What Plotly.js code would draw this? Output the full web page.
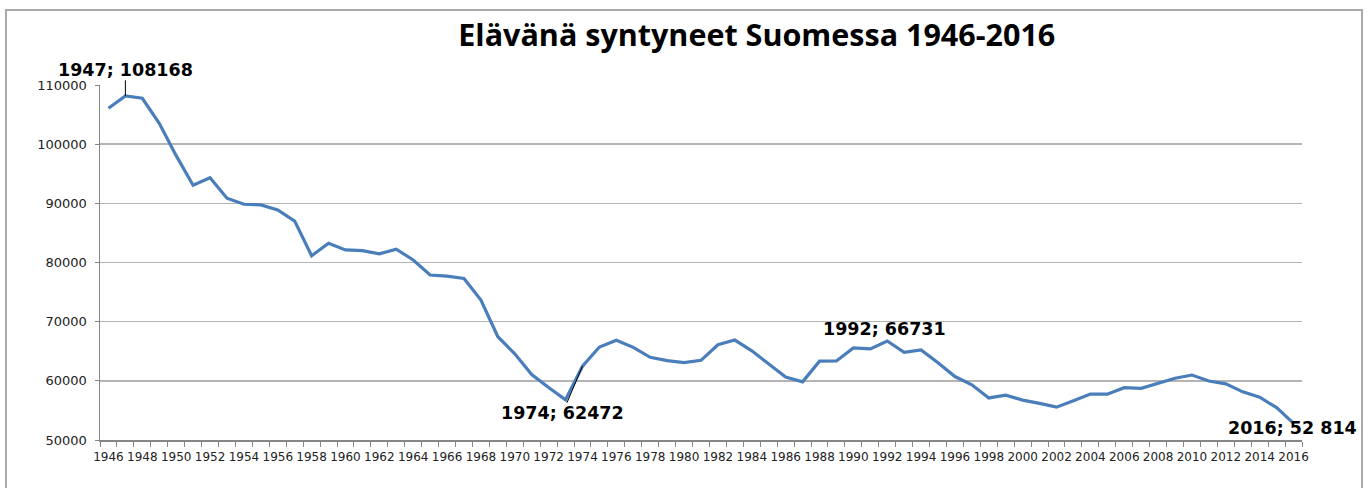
<!DOCTYPE html>
<html>
<head>
<meta charset="utf-8">
<script src="https://cdn.plot.ly/plotly-3.0.1.min.js"></script>
<style>
  html, body { margin: 0; padding: 0; background: #fff; overflow: hidden; }
  #wrap { position: relative; width: 1371px; height: 488px; }
  #chart { position: absolute; left: 0; top: 0; width: 1371px; height: 488px; }
  #frame { position: absolute; left: 5px; top: 9px; width: 1358px; height: 520px;
           border: 2px solid #a8a8a8; box-sizing: border-box; pointer-events: none; }
</style>
</head>
<body>
<div id="wrap">
  <div id="chart"></div>
  <div id="frame"></div>
</div>
<script>
const years = [1946,1947,1948,1949,1950,1951,1952,1953,1954,1955,1956,1957,1958,1959,1960,
  1961,1962,1963,1964,1965,1966,1967,1968,1969,1970,1971,1972,1973,1974,1975,1976,1977,1978,
  1979,1980,1981,1982,1983,1984,1985,1986,1987,1988,1989,1990,1991,1992,1993,1994,1995,1996,
  1997,1998,1999,2000,2001,2002,2003,2004,2005,2006,2007,2008,2009,2010,2011,2012,2013,2014,
  2015,2016];
const births = [106075,108168,107759,103515,98065,93063,94314,90866,89845,89740,88896,86985,
  81148,83253,82129,81996,81454,82251,80428,77885,77697,77289,73654,67450,64559,61067,58864,
  56787,62472,65719,66846,65659,63983,63428,63064,63469,66106,66892,65076,62796,60632,59827,
  63316,63348,65549,65395,66731,64826,65231,63067,60723,59329,57108,57574,56742,56189,55555,
  56630,57758,57745,58840,58729,59530,60430,60980,59961,59493,58134,57232,55472,52814];
const xLabelYears = [1946,1948,1950,1952,1954,1956,1958,1960,1962,1964,1966,1968,1970,1972,
  1974,1976,1978,1980,1982,1984,1986,1988,1990,1992,1994,1996,1998,2000,2002,2004,2006,2008,
  2010,2012,2014,2016];
const yTicks = [50000,60000,70000,80000,90000,100000,110000];
const titleText = 'Elävänä syntyneet Suomessa 1946-2016';
const labelled = [
  {year: 1947, text: '1947; 108168'},
  {year: 1974, text: '1974; 62472'},
  {year: 1992, text: '1992; 66731'},
  {year: 2016, text: '2016; 52 814'}
];

function valueOf(y) { return births[years.indexOf(y)]; }

const xr = [years[0] - 0.5, years[years.length - 1] + 0.5];
const annFont = {family: 'DejaVu Sans', size: 17.5, color: '#000', weight: 'bold'};

const annotations = [
  {x: labelled[0].year, y: valueOf(labelled[0].year), text: '<b>' + labelled[0].text + '</b>',
   showarrow: true, arrowhead: 0, arrowwidth: 1, arrowcolor: '#000', ax: 0, ay: -26,
   font: annFont, borderpad: 0, standoff: 0},
  {x: labelled[1].year, y: valueOf(labelled[1].year), text: '<b>' + labelled[1].text + '</b>',
   showarrow: true, arrowhead: 0, arrowwidth: 1, arrowcolor: '#000', ax: -20, ay: 47,
   font: annFont, borderpad: 0, standoff: 0},
  {x: labelled[2].year, y: valueOf(labelled[2].year), text: '<b>' + labelled[2].text + '</b>',
   showarrow: false, xshift: -3, yshift: 12, font: annFont},
  {x: labelled[3].year, y: valueOf(labelled[3].year), text: '<b>' + labelled[3].text + '</b>',
   showarrow: false, xshift: -1, yshift: -5, font: annFont}
];

const trace = {
  x: years, y: births, type: 'scatter', mode: 'lines',
  line: {color: '#4a7ebb', width: 3.2}, hoverinfo: 'x+y', showlegend: false
};
const traceLabels = {
  x: [years[0]], y: [births[0]], xaxis: 'x2', type: 'scatter', mode: 'lines',
  line: {width: 0}, showlegend: false, hoverinfo: 'skip', opacity: 0
};

const layout = {
  width: 1371, height: 488,
  margin: {l: 100, r: 69, t: 85, b: 48},
  paper_bgcolor: 'rgba(0,0,0,0)', plot_bgcolor: '#fff',
  title: {text: '<b>' + titleText + '</b>', x: 0.552, xanchor: 'center', y: 0.928, yanchor: 'middle',
          font: {family: 'Open Sans', size: 30.5, color: '#000'}},
  font: {family: 'DejaVu Sans', size: 12, color: '#222'},
  xaxis: {
    range: xr, type: 'linear', tick0: 1945.5, dtick: 1, ticks: 'outside', ticklen: 5,
    tickcolor: '#868686', tickwidth: 1, showticklabels: false, showgrid: false,
    zeroline: false, showline: true, linecolor: '#868686', linewidth: 1.5, fixedrange: true
  },
  xaxis2: {
    range: xr, type: 'linear', overlaying: 'x', anchor: 'y', side: 'bottom',
    tickmode: 'array', tickvals: xLabelYears, ticktext: xLabelYears.map(String),
    ticks: '', showgrid: false, zeroline: false, showline: false, ticklabelstandoff: 8,
    tickfont: {family: 'DejaVu Sans', size: 12, color: '#222'}, fixedrange: true
  },
  yaxis: {
    range: [50000, 110000], tickmode: 'array', tickvals: yTicks, ticktext: yTicks.map(String),
    ticks: 'outside', ticklen: 4, tickcolor: '#868686', showgrid: true, gridcolor: '#b4b4b4',
    gridwidth: 1.5, zeroline: false, showline: true, linecolor: '#868686', linewidth: 1.5,
    ticklabelstandoff: 5,
    tickfont: {family: 'DejaVu Sans', size: 13, color: '#222'}, fixedrange: true
  },
  annotations: annotations
};

Plotly.newPlot('chart', [trace, traceLabels], layout, {displayModeBar: false, staticPlot: true});
</script>
</body>
</html>
